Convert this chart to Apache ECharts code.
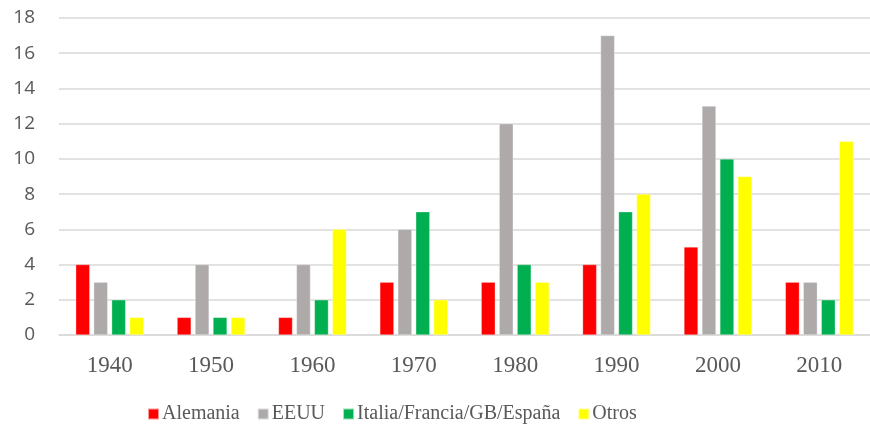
<!DOCTYPE html>
<html>
<head>
<meta charset="utf-8">
<script src="https://cdn.jsdelivr.net/npm/echarts@6/dist/echarts.min.js"></script>
<style>
  html, body { margin: 0; padding: 0; background: #fff; }
  #chart { width: 870px; height: 428px; }
</style>
</head>
<body>
<div id="chart"></div>
<script>
// datos por década
const decades = ['1940', '1950', '1960', '1970', '1980', '1990', '2000', '2010'];
const alemania = [4, 1, 1, 3, 3, 4, 5, 3];
const eeuu = [3, 4, 4, 6, 12, 17, 13, 3];
const italiaEtc = [2, 1, 2, 7, 4, 7, 10, 2];
const otros = [1, 1, 6, 2, 3, 8, 9, 11];

const chart = echarts.init(document.getElementById('chart'));

function barSerie(name, data, color) {
  return {
    name: name,
    type: 'bar',
    data: data,
    barGap: '28%',
    barCategoryGap: '33%',
    itemStyle: { color: color, borderColor: 'rgba(255,255,255,0.6)', borderWidth: 0.5 }
  };
}

const option = {
  animation: false,
  grid: { left: 59, right: 0, top: 18, bottom: 93 },
  legend: {
    bottom: -1,
    left: 142,
    itemWidth: 11,
    itemHeight: 11,
    itemGap: 17,
    icon: 'rect',
    textStyle: { fontFamily: 'Liberation Serif', fontSize: 20, color: '#595959', padding: [0, 0, 0, -2] }
  },
  xAxis: {
    type: 'category',
    data: decades,
    axisTick: { show: false },
    axisLine: { lineStyle: { color: '#d9d9d9', width: 1.5 } },
    axisLabel: { fontFamily: 'Liberation Serif', fontSize: 23, color: '#595959', margin: 19 }
  },
  yAxis: {
    type: 'value',
    min: 0,
    max: 18,
    interval: 2,
    axisLine: { show: false },
    axisTick: { show: false },
    splitLine: { lineStyle: { color: '#d9d9d9', width: 1.5 } },
    axisLabel: { fontFamily: 'Open Sans', fontSize: 19, color: '#595959', margin: 24 }
  },
  series: [
    barSerie('Alemania', alemania, '#ff0000'),
    barSerie('EEUU', eeuu, '#aeaaaa'),
    barSerie('Italia/Francia/GB/España', italiaEtc, '#00b050'),
    barSerie('Otros', otros, '#ffff00')
  ]
};

chart.setOption(option);
</script>
</body>
</html>
